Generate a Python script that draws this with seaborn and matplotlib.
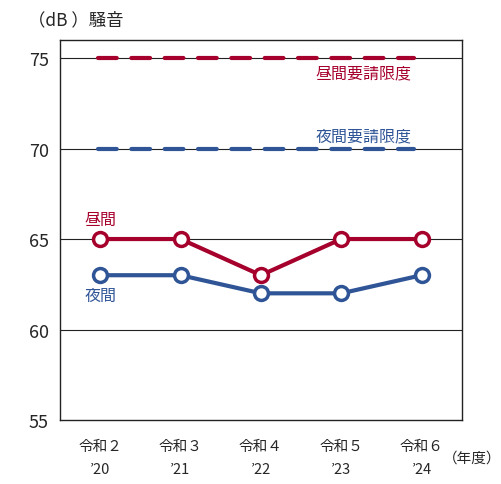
import matplotlib
matplotlib.use('Agg')
import matplotlib.pyplot as plt
import numpy as np
import pandas as pd
import seaborn as sns

RED = '#A6002C'
BLUE = '#2F5597'

years = ['令和２\n’20', '令和３\n’21', '令和４\n’22', '令和５\n’23', '令和６\n’24']
daytime = [65, 65, 63, 65, 65]
night = [63, 63, 62, 62, 63]
day_limit = 75
night_limit = 70
yticks = [55, 60, 65, 70, 75]

sns.set_style('white')
plt.rcParams['font.family'] = ['Noto Sans CJK JP', 'DejaVu Sans']

df = pd.DataFrame({
    'x': list(range(len(years))) * 2,
    'db': daytime + night,
    'kind': ['昼間'] * len(years) + ['夜間'] * len(years),
})

fig = plt.figure(figsize=(5.02, 4.85), dpi=100)
ax = fig.add_axes([0.1195, 0.132, 0.8005, 0.7835])

# grid lines
for y in [60, 65, 70, 75]:
    ax.axhline(y, color='#222222', lw=0.8, zorder=0)

# limit lines
lim_x = np.array([-0.03, 3.9])
ax.plot(lim_x, [day_limit] * 2, color=RED, lw=3, dashes=(4.5, 3.5),
        solid_capstyle='round', dash_capstyle='round', zorder=2)
ax.plot(lim_x, [night_limit] * 2, color=BLUE, lw=3, dashes=(4.5, 3.5),
        solid_capstyle='round', dash_capstyle='round', zorder=2)

sns.lineplot(data=df, x='x', y='db', hue='kind', palette={'昼間': RED, '夜間': BLUE},
             lw=3, marker='o', markersize=10, markerfacecolor='white',
             markeredgewidth=2.5, legend=False, ax=ax, zorder=3)
for line in ax.lines[-2:]:
    line.set_markeredgecolor(line.get_color())

ax.set_xlim(-0.5, 4.5)
ax.set_ylim(55, 76)
ax.set_yticks(yticks)
ax.set_yticklabels([str(v) for v in yticks], fontsize=13)
ax.set_xticks(range(len(years)))
ax.set_xticklabels(years, fontsize=10.5, linespacing=1.8)
ax.tick_params(axis='y', length=0, pad=8)
ax.tick_params(axis='x', length=0, pad=14)
ax.set_xlabel('')
ax.set_ylabel('')
for s in ax.spines.values():
    s.set_color('#222222')
    s.set_linewidth(1)

ax.text(0, 66.1, '昼間', color=RED, fontsize=11.5, ha='center', va='center')
ax.text(0, 61.9, '夜間', color=BLUE, fontsize=11.5, ha='center', va='center')
ax.text(3.28, 74.2, '昼間要請限度', color=RED, fontsize=11.5, ha='center', va='center')
ax.text(3.28, 70.7, '夜間要請限度', color=BLUE, fontsize=11.5, ha='center', va='center')

fig.text(0.055, 0.958, '（dB ）騒音', fontsize=12.5, ha='left', va='center')
fig.text(0.998, 0.055, '（年度）', fontsize=10.5, ha='right', va='center')

fig.savefig('out.png', dpi=100)
